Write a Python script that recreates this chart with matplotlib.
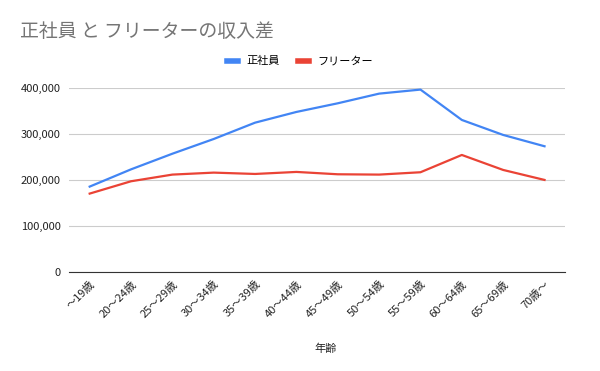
import matplotlib
matplotlib.use('Agg')
import matplotlib.pyplot as plt
from matplotlib.ticker import FuncFormatter

plt.rcParams['font.family'] = ['Noto Sans CJK JP', 'DejaVu Sans']

ages = ['〜19歳', '20〜24歳', '25〜29歳', '30〜34歳', '35〜39歳', '40〜44歳',
        '45〜49歳', '50〜54歳', '55〜59歳', '60〜64歳', '65〜69歳', '70歳〜']
seishain = [185500, 223000, 257000, 289000, 324500, 347800,
            366600, 387600, 396400, 330400, 297800, 273200]
freeter = [170300, 197100, 211600, 215900, 213000, 217400,
           212300, 211600, 216700, 254300, 221700, 200000]

fig = plt.figure(figsize=(6, 3.71), dpi=100)
ax = fig.add_axes([0.115, 0.267, 0.827, 0.496])

x = range(len(ages))
ax.plot(x, seishain, color='#4285F4', lw=1.6, label='正社員')
ax.plot(x, freeter, color='#EA4335', lw=1.6, label='フリーター')

ax.set_xlim(-0.5, len(ages) - 0.5)
ax.set_ylim(0, 400000)
ax.set_yticks([0, 100000, 200000, 300000, 400000])
ax.yaxis.set_major_formatter(FuncFormatter(lambda v, p: f'{int(v):,}'))
ax.set_xticks(list(x))
ax.set_xticklabels(ages, rotation=45, ha='right', rotation_mode='anchor')

ax.grid(axis='y', color='#cccccc', lw=0.8)
ax.set_axisbelow(True)
for s in ['top', 'right', 'left']:
    ax.spines[s].set_visible(False)
ax.spines['bottom'].set_color('#333333')
ax.tick_params(axis='both', length=0, labelsize=8, colors='#222222')
ax.tick_params(axis='y', pad=6)
ax.tick_params(axis='x', pad=5)

ax.set_xlabel('年齢', fontsize=8, color='#222222')
ax.xaxis.set_label_coords(0.518, -0.39)

fig.text(0.033, 0.916, '正社員 と フリーターの収入差', fontsize=13.6, color='#757575',
         va='center', ha='left')

leg = fig.legend(loc='center', bbox_to_anchor=(0.5, 0.835), ncol=2, frameon=False,
                 fontsize=8, handlelength=1.0, handleheight=0.5, columnspacing=1.6,
                 handletextpad=0.8)
for h in leg.get_lines():
    h.set_linewidth(4)

fig.savefig('out.png', dpi=100)
